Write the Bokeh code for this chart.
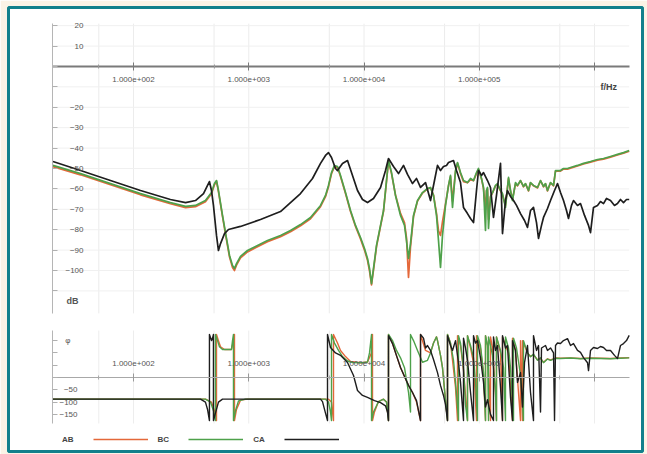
from bokeh.plotting import figure
from bokeh.models import (Range1d, LinearAxis, LogAxis, FixedTicker, Label, Legend,
                          LegendItem, Grid)
from bokeh.embed import file_html
from bokeh.resources import INLINE

# ---------------- data ----------------
series_names = ["AB", "BC", "CA"]

# magnitude (dB) of CA
ca_mag_f = [
    20, 34.7, 63.1, 115, 209, 283, 345, 405, 439, 456,
    475, 494, 525, 546, 569, 616, 667, 848, 1265, 1886,
    2812, 3574, 4195, 4634, 4920, 5224, 5658, 5890, 6508, 7192,
    7948, 8783, 9705, 10724, 12090, 13910, 15370, 16310, 18030, 19930,
    22020, 23850, 26360, 28550, 30930, 34170, 37760, 40900, 43430, 46110,
    48950, 51980, 54100, 59790, 63490, 68770, 73000, 79070, 83980, 89170,
    94650, 98500, 104600, 108900, 117900, 125200, 132900, 141100, 152900, 159100,
    168900, 175800, 186700, 198300, 210500, 228000, 247000, 262200, 278400, 295600,
    313900, 326700, 346900, 361000, 391000, 415200, 449900, 477500, 507000, 538300,
    571500, 594900, 631700, 657400, 712000, 755900, 819100, 887200, 923400, 980200,
    1062000, 1127000, 1197000, 1271000, 1377000, 1491000, 1583000, 1681000, 1785000, 1895000,
    2000000]
ca_mag_db = [
    -46.6, -51.0, -55.9, -60.8, -65.2, -66.7, -65.7, -62.3, -58.3, -56.4,
    -60.8, -68.1, -82.8, -90.2, -86.8, -81.9, -79.9, -78.4, -75.0, -71.1,
    -62.3, -54.9, -47.5, -43.6, -42.2, -44.6, -50.0, -51.0, -47.5, -46.1,
    -53.4, -60.8, -65.2, -66.7, -64.7, -59.3, -51.0, -45.1, -49.0, -52.5,
    -48.5, -52.9, -57.4, -54.9, -59.3, -56.9, -65.7, -55.9, -48.5, -51.0,
    -49.0, -48.5, -47.1, -46.1, -51.0, -56.9, -69.1, -72.1, -74.5, -76.5,
    -60.8, -51.0, -53.4, -52.0, -55.9, -59.3, -74.0, -63.2, -47.5, -81.9,
    -65.7, -60.8, -63.7, -65.7, -68.1, -72.1, -75.5, -78.9, -70.6, -69.1,
    -76.5, -84.3, -77.9, -74.0, -69.6, -65.7, -60.8, -57.4, -61.8, -65.7,
    -70.6, -74.5, -68.1, -65.7, -68.1, -67.2, -73.0, -77.9, -81.4, -69.1,
    -68.1, -66.2, -67.2, -64.7, -65.7, -68.1, -67.2, -65.2, -66.7, -65.2,
    -65.2]

# magnitude (dB) of BC and AB (same frequency points)
bc_mag_f = [
    20, 34.7, 63.1, 115, 209, 283, 345, 421, 475, 504,
    525, 546, 592, 641, 681, 723, 752, 783, 848, 975,
    1145, 1454, 1886, 2303, 2812, 3435, 4195, 4634, 4920, 5224,
    5546, 5890, 6254, 6910, 7638, 8438, 9325, 10100, 10724, 11160,
    11620, 12090, 12840, 13910, 14770, 15680, 16310, 17330, 18760, 20740,
    22460, 23380, 24330, 25320, 26890, 29120, 32180, 35560, 37760, 40100,
    42570, 44300, 46110, 47980, 50950, 54100, 56300, 58610, 62230, 64770,
    68770, 73000, 79070, 83980, 89170, 94650, 98500, 104600, 108900, 113300,
    115600, 117900, 120300, 125200, 130300, 138400, 144000, 152900, 159100, 168900,
    179400, 186700, 194300, 206300, 214700, 228000, 242000, 252000, 267500, 278400,
    295600, 320300, 340100, 361000, 375700, 391000, 415200, 441000, 458900, 507000,
    538300, 583100, 619300, 712000, 802900, 923400, 1062000, 1197000, 1377000, 1583000,
    1785000, 2000000]
bc_mag_db = [
    -48.5, -52.5, -57.4, -62.3, -66.7, -68.6, -68.1, -65.7, -61.8, -57.4,
    -55.9, -60.8, -73.0, -84.3, -92.6, -97.5, -99.0, -96.6, -93.1, -90.2,
    -88.2, -85.3, -82.8, -80.4, -77.5, -74.0, -68.1, -63.2, -58.3, -52.0,
    -48.5, -49.0, -53.4, -61.8, -70.6, -77.9, -83.8, -89.2, -94.1, -99.0,
    -106.4, -99.0, -87.7, -77.9, -70.6, -55.9, -46.1, -52.0, -63.2, -73.0,
    -77.9, -85.3, -94.1, -86.8, -73.0, -65.7, -61.8, -59.8, -59.3, -63.2,
    -73.0, -85.3, -98.5, -82.8, -68.1, -58.3, -53.4, -69.1, -51.0, -47.1,
    -52.0, -55.9, -56.9, -54.9, -55.9, -52.0, -50.0, -54.9, -59.3, -80.4,
    -60.8, -59.3, -79.4, -63.7, -61.8, -58.3, -57.4, -60.8, -62.3, -69.1,
    -54.4, -60.8, -65.7, -56.9, -58.3, -55.9, -58.8, -57.4, -60.8, -56.9,
    -58.3, -59.3, -55.9, -58.8, -57.4, -60.8, -56.9, -58.3, -51.0, -51.0,
    -50.0, -50.0, -49.5, -48.5, -47.5, -46.6, -45.6, -45.1, -44.1, -43.1,
    -42.2, -41.2]
ab_mag_db = [
    -49.1, -53.1, -58.0, -62.9, -67.3, -69.2, -68.7, -66.3, -62.4, -58.0,
    -56.3, -61.3, -73.6, -85.0, -93.4, -98.5, -100.0, -97.4, -93.8, -90.9,
    -88.8, -85.9, -83.4, -81.0, -78.1, -74.6, -68.7, -63.8, -58.9, -52.6,
    -49.0, -49.5, -53.9, -62.3, -71.1, -78.4, -84.5, -90.0, -95.0, -100.2,
    -107.0, -99.8, -88.3, -78.4, -71.0, -56.3, -46.4, -52.5, -63.0, -72.0,
    -76.5, -84.0, -103.4, -88.5, -73.5, -66.0, -62.0, -60.0, -59.5, -63.0,
    -72.0, -80.5, -82.8, -76.0, -67.5, -58.5, -54.0, -66.0, -51.5, -47.5,
    -52.5, -56.5, -57.0, -55.5, -56.0, -52.5, -50.5, -55.0, -60.0, -70.0,
    -61.0, -60.0, -75.0, -64.0, -62.0, -58.5, -57.8, -61.0, -63.0, -68.0,
    -55.0, -61.0, -65.0, -57.5, -58.5, -56.0, -59.0, -57.5, -61.0, -57.0,
    -58.5, -59.5, -56.0, -59.0, -57.5, -61.0, -57.0, -58.5, -51.3, -51.3,
    -50.3, -50.3, -49.8, -48.8, -47.8, -46.9, -45.9, -45.4, -44.4, -43.4,
    -42.5, -41.5]

# phase (degrees)
ca_ph_f = [
    20, 381, 421, 439, 456, 456, 475, 485, 494, 494,
    514, 546, 592, 4195, 4364, 4634, 4823, 4823, 5120, 5658,
    6254, 7192, 8110, 8783, 9705, 10724, 12330, 13910, 15370, 15990,
    16310, 16310, 17680, 19140, 20740, 22460, 24330, 26360, 28550, 30930,
    30930, 32840, 34170, 35560, 37760, 40100, 43430, 46110, 48950, 50950,
    53030, 53030, 56300, 58610, 62230, 66070, 68770, 73000, 73000, 75980,
    79070, 83980, 89170, 89170, 92800, 96560, 102500, 108900, 113300, 117900,
    125200, 132900, 132900, 138400, 144000, 152900, 159100, 159100, 168900, 175800,
    186700, 194300, 194300, 206300, 214700, 228000, 237300, 247000, 262200, 278400,
    295600, 295600, 313900, 326700, 340100, 346900, 361000, 375700, 391000, 415200,
    441000, 449900, 458900, 477500, 507000, 538300, 583100, 619300, 657400, 712000,
    755900, 802900, 869700, 887200, 923400, 980200, 1062000, 1127000, 1197000, 1271000,
    1377000, 1491000, 1583000, 1681000, 1785000, 1895000, 2000000]
ca_ph_deg = [
    -88, -88, -100, -130, -175, 175, 150, 160, 175, -175,
    -145, -100, -88, -88, -98, -145, -175, 175, 122, 100,
    90, 61, 8, -53, -73, -81, -94, -102, -115, -140,
    -175, 170, 138, 89, 41, 4, -32, -61, -94, -175,
    175, 160, 120, 130, 110, 73, 20, -32, -73, -110,
    -175, 170, 130, 110, 150, 60, -20, -175, 160, 120,
    70, -60, -175, 170, 140, 150, 80, -20, -120, -90,
    -150, -175, 165, 110, 130, -40, -175, 170, 120, 130,
    -80, -175, 150, 110, -20, 20, -120, 60, 130, -60,
    -175, 170, 110, 130, -140, 120, 125, 130, 110, 120,
    100, -175, 130, 140, 138, 150, 158, 130, 138, 110,
    102, 81, 60, 28, 110, 122, 118, 126, 122, 110,
    110, 90, 77, 130, 138, 150, 171]

bc_ph_f = [
    20, 421, 466, 494, 514, 514, 536, 557, 592, 708,
    723, 737, 737, 767, 815, 937, 4634, 4920, 5120, 5224,
    5224, 5546, 6008, 6508, 7192, 7948, 9705, 10724, 11160, 11620,
    11620, 12090, 13360, 14770, 15680, 16310, 16310, 17680, 19140, 20740,
    22460, 24330, 25320, 25320, 26890, 29120, 32180, 35560, 37760, 40100,
    42570, 43430, 46110, 47980, 50950, 53030, 53030, 56300, 59790, 62230,
    64770, 66070, 66070, 68770, 73000, 75980, 79070, 79070, 83980, 89170,
    92800, 96560, 96560, 102500, 108900, 113300, 113300, 117900, 120300, 120300,
    125200, 130300, 138400, 141100, 141100, 152900, 162300, 168900, 168900, 179400,
    186700, 198300, 198300, 210500, 228000, 242000, 242000, 262200, 278400, 295600,
    320300, 340100, 361000, 391000, 415200, 458900, 507000, 619300, 755900, 923400,
    1127000, 1377000, 1681000, 2000000]
bc_ph_deg = [
    -88, -88, -100, -135, -175, 175, 150, 125, 114, 114,
    150, 175, -175, -135, -95, -88, -88, -100, -140, -175,
    175, 140, 110, 85, 67, 61, 60, 63, 100, 175,
    -175, -140, -98, -88, -100, -175, 175, 150, 110, 80,
    40, -60, -140, 175, 150, 110, 62, 70, 100, 140,
    165, 150, 90, 40, -93, -175, 175, 140, 70, -20,
    -120, -175, 170, 140, 40, -110, -175, 170, 130, 80,
    -20, -175, 170, 130, 20, -175, 170, 130, -175, 165,
    130, 90, -60, -175, 165, 110, 40, -175, 165, 120,
    40, -175, 160, 120, 10, -175, 150, 100, 84, 95,
    70, 80, 60, 75, 70, 78, 77, 79, 76, 78,
    77, 76, 78, 80]

ab_ph_f = [
    20, 421, 475, 504, 525, 525, 546, 569, 616, 708,
    737, 752, 752, 783, 848, 975, 4920, 5224, 5330, 5437,
    5437, 5890, 6254, 6910, 7638, 9325, 10724, 11620, 11850, 11850,
    12330, 13360, 14770, 15680, 16310, 16310, 17680, 19140, 20740, 22460,
    24330, 26360, 28550, 30930, 30930, 34170, 37760, 40100, 42570, 43430,
    46110, 47980, 50950, 53030, 53030, 56300, 58610, 62230, 64770, 64770,
    68770, 73000, 79070, 79070, 83980, 89170, 94650, 94650, 102500, 108900,
    113300, 113300, 117900, 125200, 125200, 130300, 138400, 141100, 141100, 152900,
    159100, 159100, 168900, 179400, 194300, 194300, 206300, 228000, 228000, 237300,
    237300, 262200, 278400, 295600, 320300, 340100, 361000, 391000, 415200, 458900,
    507000, 619300, 755900, 923400, 1127000, 1377000, 1681000, 2000000]
ab_ph_deg = [
    -88, -88, -100, -135, -175, 175, 150, 125, 114, 114,
    150, 175, -175, -130, -92, -88, -88, -100, -140, -175,
    175, 140, 110, 85, 65, 60, 63, 100, 175, -175,
    -140, -98, -88, -100, -175, 175, 138, 89, 41, 4,
    -32, -61, -100, -175, 175, 110, 100, 140, 165, 150,
    90, 40, -93, -175, 175, 140, 70, -40, -175, 170,
    130, 30, -175, 170, 120, 60, -175, 170, 120, 10,
    -175, 170, 130, -175, 165, 120, -70, -175, 165, 100,
    -175, 165, 130, 100, -175, 160, 110, -175, 150, -175,
    150, 100, 86, 92, 72, 78, 62, 76, 72, 79,
    78, 80, 77, 79, 78, 77, 79, 81]

# ticks / labels
freq_major = [100, 1000, 10000, 100000, 1000000]
freq_minor = [50, 500, 5000, 50000, 500000]
freq_labels = {100: "1.000e+002", 1000: "1.000e+003", 10000: "1.000e+004",
               100000: "1.000e+005", 1000000: ""}
db_ticks = [20, 10, 0, -10, -20, -30, -40, -50, -60, -70, -80, -90, -100, -110]
db_labeled = [20, 10, -20, -30, -40, -50, -60, -70, -80, -90, -100]
ph_ticks = [150, 100, 50, 0, -50, -100, -150]
ph_labeled = [-50, -100, -150]

# ---------------- styling ----------------
FONT = "Liberation Sans"
TEAL = "#12808c"
CREAM = "#fbf3e6"
COL = {"AB": "#e4683a", "BC": "#4ea14a", "CA": "#1e1e1e"}
F_LO, F_HI = 20, 2000000

p = figure(width=647, height=454, x_axis_type="log", x_axis_location=None,
           y_axis_location=None, x_range=Range1d(8.23, 2.609e6),
           y_range=Range1d(-188.7, 28.9), toolbar_location=None,
           output_backend="svg", title=None,
           min_border_left=8, min_border_right=5, min_border_top=7, min_border_bottom=3)
p.extra_y_ranges = {"phase": Range1d(-300.8, 1504.1)}
p.center = [r for r in p.center if not isinstance(r, Grid)]
p.background_fill_color = "white"
p.border_fill_color = CREAM
p.outline_line_color = TEAL
p.outline_line_width = 3

# faint grid
grid_f = sorted(freq_major + freq_minor)
p.segment(x0=grid_f, y0=[-121] * len(grid_f), x1=grid_f, y1=[21] * len(grid_f),
          line_color="#ececec", line_width=1)
db_grid = [d for d in db_ticks if d != 0]
p.segment(x0=[F_LO] * len(db_grid), y0=db_grid, x1=[F_HI] * len(db_grid), y1=db_grid,
          line_color="#f0f0f0", line_width=1)
p.segment(x0=grid_f, y0=[-187] * len(grid_f), x1=grid_f, y1=[191] * len(grid_f),
          line_color="#ededed", line_width=1, y_range_name="phase")

# magnitude lines
r_ab = p.line(bc_mag_f, ab_mag_db, line_color=COL["AB"], line_width=1.7, line_join="round")
r_bc = p.line(bc_mag_f, bc_mag_db, line_color=COL["BC"], line_width=1.7, line_join="round")
r_ca = p.line(ca_mag_f, ca_mag_db, line_color=COL["CA"], line_width=1.7, line_join="round")
ghost = p.line(bc_mag_f, bc_mag_db, line_alpha=0)

# phase lines
p.line(ab_ph_f, ab_ph_deg, line_color=COL["AB"], line_width=1.4, line_join="round",
       y_range_name="phase")
p.line(bc_ph_f, bc_ph_deg, line_color=COL["BC"], line_width=1.4, line_join="round",
       y_range_name="phase")
p.line(ca_ph_f, ca_ph_deg, line_color=COL["CA"], line_width=1.4, line_join="round",
       y_range_name="phase")

# ---------------- axes ----------------
def xaxis(**kw):
    return LogAxis(ticker=FixedTicker(ticks=freq_major, minor_ticks=freq_minor),
                   fixed_location=0, bounds=(F_LO, F_HI),
                   major_label_overrides=freq_labels,
                   major_label_text_font=FONT, major_label_text_font_size="8px",
                   major_label_text_color="#555555", **kw)

ax_top = xaxis(axis_line_color="#7a7a7a", axis_line_width=2,
               major_tick_in=4, major_tick_out=4, major_tick_line_color="#7a7a7a",
               minor_tick_in=2, minor_tick_out=2, minor_tick_line_color="#999999",
               major_label_standoff=7)
p.add_layout(ax_top, "below")

ax_bot = xaxis(y_range_name="phase", axis_line_color="#a8a8a8", axis_line_width=1,
               major_tick_in=4, major_tick_out=4, major_tick_line_color="#999999",
               minor_tick_in=2, minor_tick_out=2, minor_tick_line_color="#aaaaaa",
               major_label_standoff=8)
p.add_layout(ax_bot, "above")

# dB axis line + ticks
ax_db = LinearAxis(fixed_location=F_LO, bounds=(-121, 21),
                   ticker=FixedTicker(ticks=db_ticks, minor_ticks=[]),
                   axis_line_color="#b5b5b5", axis_line_width=1,
                   major_tick_in=0, major_tick_out=5, major_tick_line_color="#b0b0b0",
                   minor_tick_line_color=None, major_label_text_color=None)
p.add_layout(ax_db, "right")
# dB labels
ax_db_lab = LinearAxis(fixed_location=40.7, ticker=FixedTicker(ticks=db_labeled, minor_ticks=[]),
                       axis_line_color=None, major_tick_line_color=None,
                       minor_tick_line_color=None, major_tick_in=0, major_tick_out=0,
                       major_label_standoff=5, major_label_text_font=FONT,
                       major_label_text_font_size="8px", major_label_text_color="#555555")
p.add_layout(ax_db_lab, "left")

# phase axis line + ticks
ax_ph = LinearAxis(y_range_name="phase", fixed_location=F_LO, bounds=(-187, 191),
                   ticker=FixedTicker(ticks=ph_ticks, minor_ticks=[]),
                   axis_line_color="#b5b5b5", axis_line_width=1,
                   major_tick_in=0, major_tick_out=5, major_tick_line_color="#b0b0b0",
                   minor_tick_line_color=None, major_label_text_color=None)
p.add_layout(ax_ph, "right")
ax_ph_lab = LinearAxis(y_range_name="phase", fixed_location=36.1,
                       ticker=FixedTicker(ticks=ph_labeled, minor_ticks=[]),
                       axis_line_color=None, major_tick_line_color=None,
                       minor_tick_line_color=None, major_tick_in=0, major_tick_out=0,
                       major_label_standoff=5, major_label_text_font=FONT,
                       major_label_text_font_size="8px", major_label_text_color="#555555")
p.add_layout(ax_ph_lab, "left")

# unit labels
p.add_layout(Label(x=33.3, y=-114.7, text="dB", text_align="right", text_baseline="middle",
                   text_font=FONT, text_font_size="9px", text_font_style="bold",
                   text_color="#555555"))
p.add_layout(Label(x=1.127e6, y=-10.3, text="f/Hz", text_align="left", text_baseline="middle",
                   text_font=FONT, text_font_size="9px", text_font_style="bold",
                   text_color="#444444"))
p.add_layout(Label(x=28.4, y=150, y_range_name="phase", text="φ", text_align="right",
                   text_baseline="middle", text_font=FONT, text_font_size="8px",
                   text_color="#555555"))

# legend: text precedes its line, so each line sample is carried by the next item
legend = Legend(items=[LegendItem(label=series_names[0], renderers=[ghost]),
                       LegendItem(label=series_names[1], renderers=[r_ab]),
                       LegendItem(label=series_names[2], renderers=[r_bc]),
                       LegendItem(label=" ", renderers=[r_ca])],
                orientation="horizontal", location=(-11, 7),
                glyph_width=55, glyph_height=10, label_standoff=10, label_width=0,
                label_height=10, spacing=19, padding=0, margin=0,
                border_line_color=None, background_fill_alpha=0,
                label_text_font=FONT, label_text_font_size="8px",
                label_text_font_style="bold", label_text_color="#444444")
p.add_layout(legend)

open("out.html", "w").write(file_html(p, INLINE))
